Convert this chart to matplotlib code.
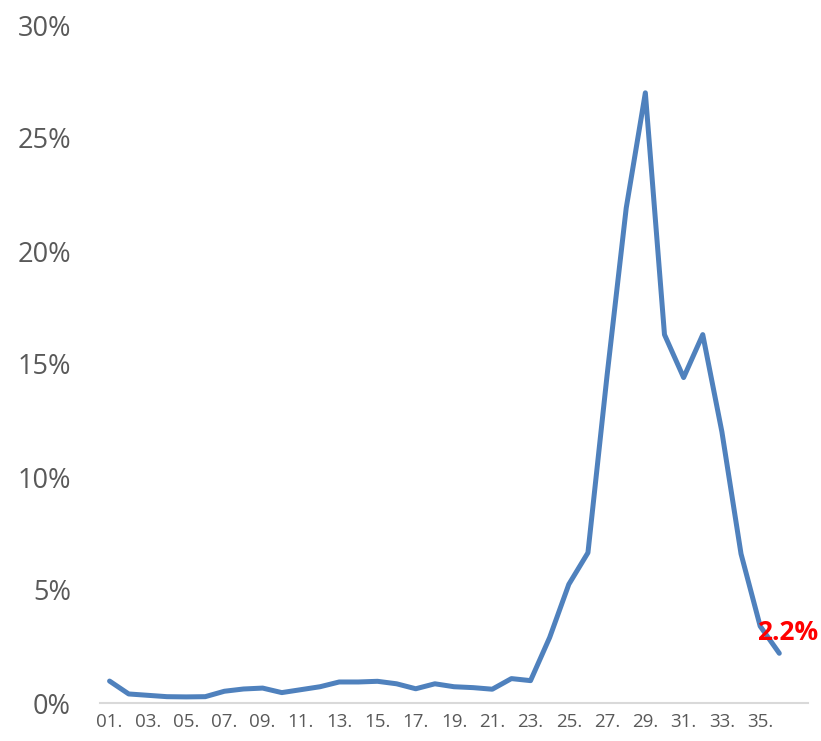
import matplotlib
matplotlib.use("Agg")
import matplotlib.pyplot as plt
from matplotlib.ticker import FuncFormatter, FixedLocator

categories = ["01.", "02.", "03.", "04.", "05.", "06.", "07.", "08.", "09.", "10.",
              "11.", "12.", "13.", "14.", "15.", "16.", "17.", "18.", "19.", "20.",
              "21.", "22.", "23.", "24.", "25.", "26.", "27.", "28.", "29.", "30.",
              "31.", "32.", "33.", "34.", "35.", "36."]
values = [0.97, 0.40, 0.34, 0.28, 0.27, 0.28, 0.52, 0.62, 0.66, 0.46,
          0.59, 0.72, 0.93, 0.93, 0.96, 0.85, 0.63, 0.85, 0.72, 0.68,
          0.61, 1.08, 0.99, 2.9, 5.25, 6.65, 14.5, 21.9, 27.0, 16.3,
          14.4, 16.3, 12.0, 6.6, 3.4, 2.2]
last_label = "2.2%"
y_ticks = [0, 5, 10, 15, 20, 25, 30]

plt.rcParams['font.family'] = ['Open Sans', 'DejaVu Sans']

fig = plt.figure(figsize=(8.21, 7.41), dpi=100)
ax = fig.add_axes([100/821, 38/741, 708/821, 678/741])

x = list(range(len(values)))
ax.plot(x, values, color="#4F81BD", linewidth=3.6, solid_joinstyle="round",
        solid_capstyle="round", clip_on=False)

ax.set_xlim(-0.5, 36.5)
ax.set_ylim(0, 30)
ax.yaxis.set_major_locator(FixedLocator(y_ticks))
ax.yaxis.set_major_formatter(FuncFormatter(lambda v, p: f"{v:.0f}%"))
ax.set_xticks(x[::2])
ax.set_xticklabels(categories[::2])

for s in ["top", "right", "left"]:
    ax.spines[s].set_visible(False)
ax.spines["bottom"].set_color("#D9D9D9")
ax.spines["bottom"].set_linewidth(1.5)
ax.tick_params(axis="y", length=0, pad=21, labelsize=19.5, labelcolor="#595959")
ax.tick_params(axis="x", length=0, pad=7, labelsize=13.5, labelcolor="#595959")

ax.annotate(last_label, xy=(x[-1], values[-1]), xytext=(6, 15),
            textcoords="offset points", ha="center", va="center",
            color="red", fontsize=19, fontweight="bold", annotation_clip=False)

fig.savefig("out.png", dpi=100)
